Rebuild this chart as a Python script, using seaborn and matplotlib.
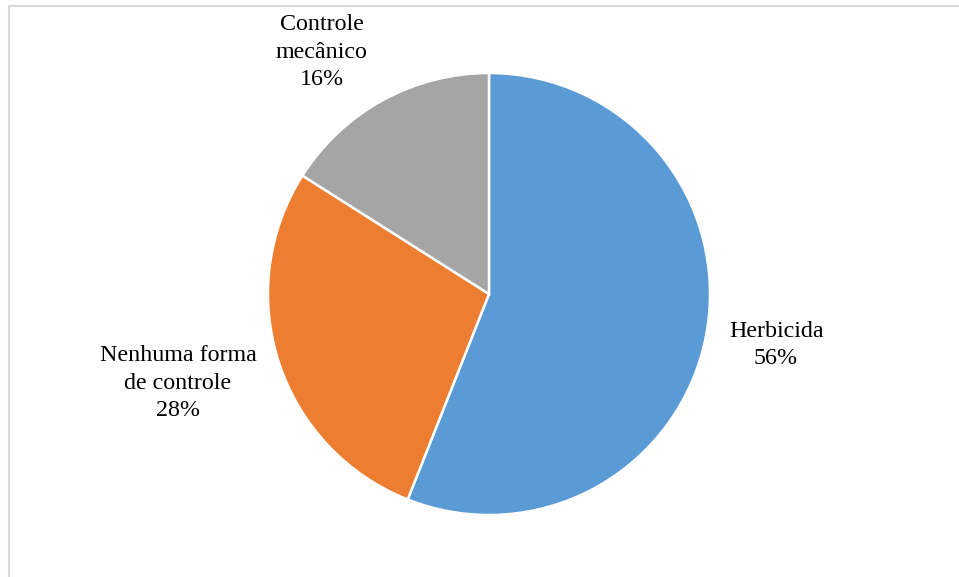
import matplotlib
matplotlib.use("Agg")
import matplotlib.pyplot as plt
import seaborn as sns
import numpy as np
from matplotlib.patches import Rectangle

sns.set_theme(style="white")
plt.rcParams['font.family'] = ['Liberation Serif', 'DejaVu Serif']

categories = ["Herbicida", "Nenhuma forma\nde controle", "Controle\nmecânico"]
values = [56, 28, 16]
colors = ["#5B9BD5", "#ED7D31", "#A5A5A5"]
# label placement relative to pie (fraction of radius)
label_pos = [(1.299, -0.231), (-1.407, -0.403), (-0.756, 1.095)]

W, H = 959, 577
fig = plt.figure(figsize=(W / 100, H / 100), dpi=100)
fig.patch.set_facecolor("white")

# chart border
fig.add_artist(Rectangle((9 / W, -0.05), 1.2, (H - 6) / H + 0.05, transform=fig.transFigure,
                         fill=False, edgecolor="#D9D9D9", linewidth=1.5))

cx, cy, r = 489, 294, 221
ax = fig.add_axes([(cx - r) / W, (H - cy - r) / H, 2 * r / W, 2 * r / H])
wedges, _ = ax.pie(values, colors=colors, startangle=90, counterclock=False,
                   wedgeprops=dict(edgecolor="white", linewidth=1.8))
ax.set_xlim(-1, 1)
ax.set_ylim(-1, 1)
ax.set_aspect("equal")
ax.axis("off")

for cat, v, (lx, ly) in zip(categories, values, label_pos):
    ax.text(lx, ly, f"{cat}\n{v}%", ha="center", va="center",
            fontsize=17.3, color="#000000", linespacing=1.38, clip_on=False)

fig.savefig("out.png", dpi=100, facecolor="white")
